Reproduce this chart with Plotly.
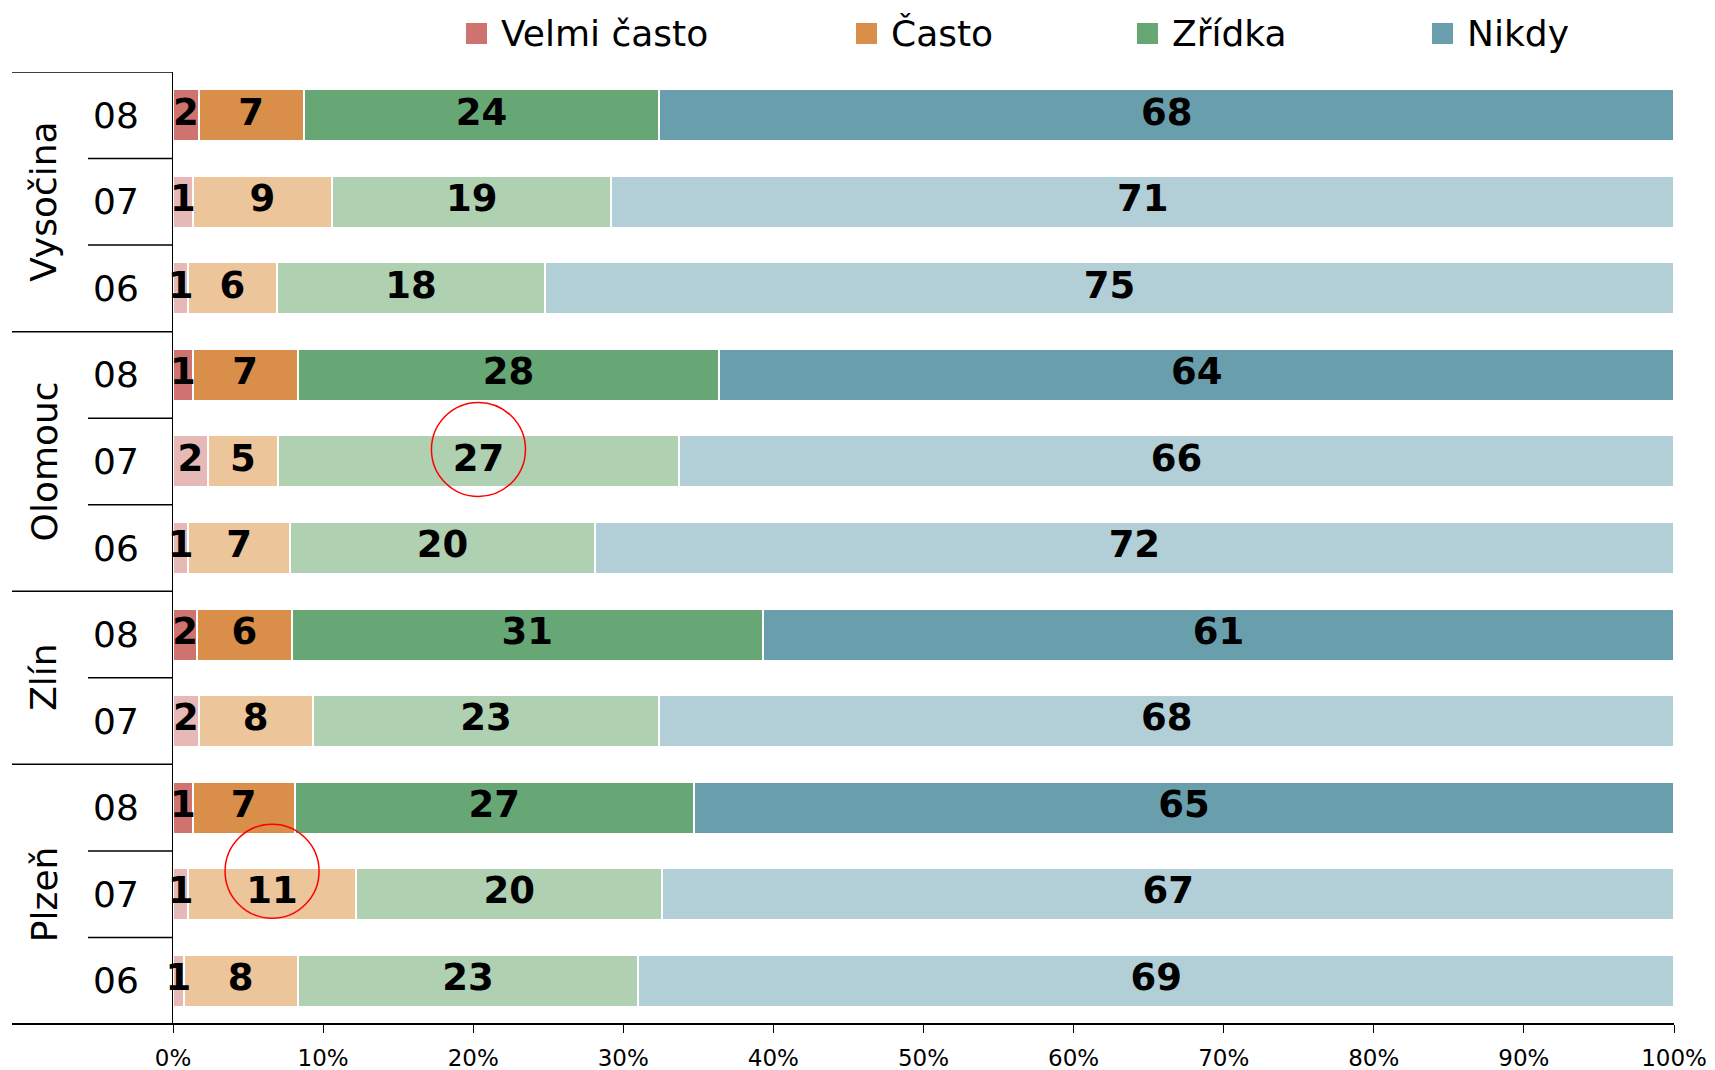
import plotly.graph_objects as go

# Rows top to bottom: region groups, each with its survey years
groups = ["Vysočina", "Olomouc", "Zlín", "Plzeň"]
group_years = [["08", "07", "06"], ["08", "07", "06"], ["08", "07"], ["08", "07", "06"]]
categories = ["Velmi často", "Často", "Zřídka", "Nikdy"]

# Shares in percent, one value per row (same order as the rows above)
velmi_casto = [1.7, 1.3, 1.0, 1.3, 2.3, 1.0, 1.6, 1.7, 1.3, 1.0, 0.7]
casto = [7.0, 9.3, 5.9, 7.0, 4.7, 6.8, 6.3, 7.6, 6.8, 11.2, 7.6]
zridka = [23.7, 18.6, 17.9, 28.1, 26.7, 20.3, 31.4, 23.1, 26.6, 20.4, 22.7]
nikdy = [67.6, 70.8, 75.2, 63.6, 66.3, 71.9, 60.7, 67.6, 65.3, 67.4, 69.0]

x_ticks = [0, 10, 20, 30, 40, 50, 60, 70, 80, 90, 100]
x_tick_labels = ["0%", "10%", "20%", "30%", "40%", "50%", "60%", "70%", "80%", "90%", "100%"]

# Highlighted labels: (row index, category index, lift in px)
highlights = [(4, 2, 12), (9, 1, 23)]

dark_colors = ["#CF7370", "#D98F4A", "#67A776", "#699FAD"]
light_colors = ["#E6B8B6", "#ECC59A", "#AFD1B2", "#B2CED6"]

series = [velmi_casto, casto, zridka, nikdy]
years = [y for ys in group_years for y in ys]
rows = list(range(len(years)))

# Plot area geometry in pixels
W, H = 1715, 1070
L, R, T, B = 173, 41, 72, 46
PW, PH = W - L - R, H - T - B
FONT = "DejaVu Sans"


def px_x(px):
    return (px - L) / PW


def px_y(py):
    return (H - B - py) / PH


fig = go.Figure()

# Stacked segments
for ci, (name, vals) in enumerate(zip(categories, series)):
    colors = [dark_colors[ci] if yr == "08" else light_colors[ci] for yr in years]
    fig.add_trace(go.Bar(
        name=name, x=vals, y=rows, orientation="h", width=0.6,
        marker=dict(color=colors, line=dict(color="white", width=2)),
        showlegend=False, hoverinfo="skip",
    ))

# Value labels, drawn on top of all segments
for ci, (name, vals) in enumerate(zip(categories, series)):
    mids = []
    for r in rows:
        left = sum(series[j][r] for j in range(ci))
        mids.append(left + vals[r] / 2)
    fig.add_trace(go.Scatter(
        x=mids, y=rows, mode="text", text=[format(v, ".0f") for v in vals],
        textposition="middle center", cliponaxis=False,
        textfont=dict(family=FONT, size=37, color="black", weight="bold"),
        showlegend=False, hoverinfo="skip",
    ))

shapes = []
annotations = []

# Group labels, row labels and separator lines on the left
start = 0
for g, ys in zip(groups, group_years):
    n = len(ys)
    annotations.append(dict(
        text=g, xref="paper", yref="y", x=px_x(44), y=start + (n - 1) / 2,
        textangle=-90, showarrow=False, xanchor="center", yanchor="middle",
        font=dict(family=FONT, size=36, color="black")))
    shapes.append(dict(type="line", xref="paper", yref="y", x0=px_x(12), x1=0,
                       y0=start - 0.5, y1=start - 0.5, line=dict(color="black", width=1.5)))
    for k, yr in enumerate(ys):
        annotations.append(dict(
            text=yr, xref="paper", yref="y", x=px_x(141), y=start + k,
            showarrow=False, xanchor="right", yanchor="middle",
            font=dict(family=FONT, size=36, color="black")))
        if k > 0:
            shapes.append(dict(type="line", xref="paper", yref="y", x0=px_x(88), x1=0,
                               y0=start + k - 0.5, y1=start + k - 0.5,
                               line=dict(color="black", width=1.5)))
    start += n

# Bottom axis line, extended under the label column
shapes.append(dict(type="line", xref="paper", yref="paper", x0=px_x(12), x1=1, y0=0, y1=0,
                   line=dict(color="black", width=2)))

# Red circles around highlighted values
for row, ci, lift in highlights:
    left = sum(series[j][row] for j in range(ci))
    cx = left + series[ci][row] / 2
    r = 47
    shapes.append(dict(type="circle", xref="x", yref="y", xsizemode="pixel", ysizemode="pixel",
                       xanchor=cx, yanchor=row, x0=-r, x1=r, y0=lift - r, y1=lift + r,
                       line=dict(color="#FF0000", width=1.5)))

# Legend row
legend_x = [466, 856, 1137, 1432]
sq = 21
for ci, (name, lx) in enumerate(zip(categories, legend_x)):
    shapes.append(dict(type="rect", xref="paper", yref="paper",
                       x0=px_x(lx), x1=px_x(lx + sq), y0=px_y(23), y1=px_y(23 + sq),
                       fillcolor=dark_colors[ci], line=dict(width=0)))
    annotations.append(dict(
        text=name, xref="paper", yref="paper", x=px_x(lx + 33), y=px_y(34),
        showarrow=False, xanchor="left", yanchor="middle",
        font=dict(family=FONT, size=36, color="black")))

fig.update_layout(
    barmode="stack", width=W, height=H, autosize=False,
    margin=dict(l=L, r=R, t=T, b=B, autoexpand=False),
    paper_bgcolor="white", plot_bgcolor="white",
    shapes=shapes, annotations=annotations,
    font=dict(family=FONT, color="black"),
)
fig.update_xaxes(range=[0, 100], tickvals=x_ticks, ticktext=x_tick_labels,
                 ticks="outside", ticklen=8, tickcolor="black", tickwidth=1,
                 showgrid=False, zeroline=False, showline=False, automargin=False,
                 tickfont=dict(family=FONT, size=23, color="black"), ticklabelstandoff=5)
fig.update_yaxes(range=[len(rows) - 0.5, -0.5], showticklabels=False, ticks="",
                 showgrid=False, zeroline=False, showline=True, linecolor="black",
                 linewidth=1, automargin=False)

fig.write_html("out.html")
